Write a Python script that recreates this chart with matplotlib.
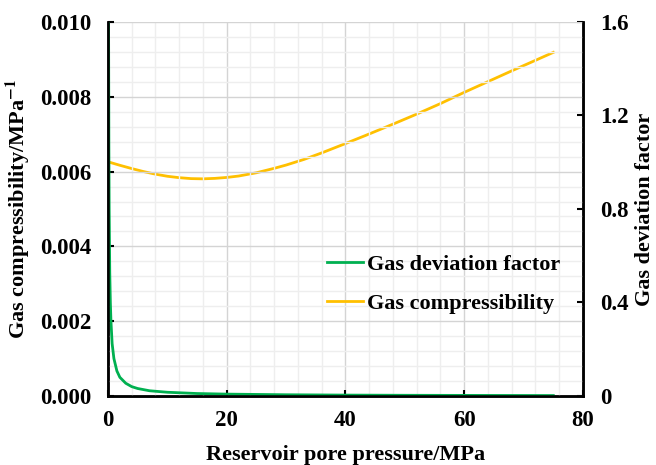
import matplotlib
matplotlib.use("Agg")
import matplotlib.pyplot as plt
from matplotlib.ticker import MultipleLocator, FixedLocator

plt.rcParams["font.family"] = ["Liberation Serif", "DejaVu Serif"]
plt.rcParams["font.weight"] = "bold"
plt.rcParams["mathtext.fontset"] = "stix"

# Gas compressibility (left axis)
p_c = [0.08, 0.1, 0.15, 0.2, 0.3, 0.4, 0.5, 0.7, 1.0, 1.5, 2, 3, 4, 5, 7, 10,
       15, 20, 30, 40, 50, 60, 75]
comp = [0.0125, 0.0100, 0.0067, 0.0050, 0.0033, 0.0025, 0.0020, 0.0014,
        0.00100, 0.00067, 0.00050, 0.00034, 0.00025, 0.00020, 0.00014,
        0.00010, 0.000066, 0.00005, 0.000033, 0.000024, 0.000019,
        0.000016, 0.000012]

# Gas deviation factor (right axis)
p_z = [0, 2, 4, 6, 8, 10, 12, 14, 16, 18, 20, 22, 25, 28, 30, 33, 36, 40,
       44, 48, 52, 56, 60, 64, 68, 72, 75]
z_fac = [1.002, 0.987, 0.973, 0.960, 0.949, 0.940, 0.934, 0.930, 0.929,
         0.931, 0.935, 0.941, 0.955, 0.974, 0.988, 1.012, 1.040, 1.080,
         1.121, 1.163, 1.206, 1.251, 1.299, 1.345, 1.391, 1.436, 1.470]

labels = ["Gas deviation factor", "Gas compressibility"]
x_ticks = [0, 20, 40, 60, 80]
left_ticks = [0.0, 0.002, 0.004, 0.006, 0.008, 0.010]
right_ticks = [0, 0.4, 0.8, 1.2, 1.6]

GREEN = "#00b050"
GOLD = "#ffc000"

fig = plt.figure(figsize=(6.56, 4.65), dpi=100)
ax = fig.add_axes([0.1646, 0.1484, 0.7241, 0.8043])
ax2 = ax.twinx()

ax.set_xlim(0, 80)
ax.set_ylim(0, 0.010)
ax2.set_ylim(0, 1.6)

ax.xaxis.set_major_locator(FixedLocator(x_ticks))
ax.xaxis.set_minor_locator(MultipleLocator(4))
ax.yaxis.set_major_locator(FixedLocator(left_ticks))
ax.yaxis.set_minor_locator(MultipleLocator(0.0004))
ax2.yaxis.set_major_locator(FixedLocator(right_ticks))

ax.grid(which="major", color="#d4d4d4", lw=1.0)
ax.grid(which="minor", color="#eeeeee", lw=1.0)
ax.set_axisbelow(True)

ax.set_yticklabels([f"{v:.3f}" for v in left_ticks])
ax2.set_yticklabels(["0", "0.4", "0.8", "1.2", "1.6"])

for a in (ax, ax2):
    a.tick_params(which="major", direction="in", length=4, width=1.5,
                  labelsize=16.5, pad=12)
    a.tick_params(which="minor", length=0)
    a.spines["top"].set_visible(False)
    for s in ("left", "bottom", "right"):
        a.spines[s].set_linewidth(1.8)
        a.spines[s].set_color("black")
ax.tick_params(axis="x", pad=10)

ln1, = ax.plot(p_c, comp, color=GREEN, lw=2.0, label=labels[0])
ln2, = ax2.plot(p_z, z_fac, color=GOLD, lw=2.0, label=labels[1])
ax.set_zorder(ax2.get_zorder() + 1)
ax.patch.set_visible(False)

ax.set_xlabel("Reservoir pore pressure/MPa", fontsize=16, fontweight="bold",
              labelpad=10)
ax.set_ylabel(r"Gas compressibility/MPa$^{\mathbf{-1}}$", fontsize=16,
              fontweight="bold", labelpad=6)
ax2.set_ylabel("Gas deviation factor", fontsize=16, fontweight="bold",
               labelpad=5)

leg = ax.legend(handles=[ln1, ln2], loc="upper left",
                bbox_to_anchor=(0.461, 0.378), frameon=False, fontsize=16,
                handlelength=1.6, handletextpad=0.2, labelspacing=0.8,
                borderaxespad=0, borderpad=0)

fig.savefig("out.png", dpi=100)
